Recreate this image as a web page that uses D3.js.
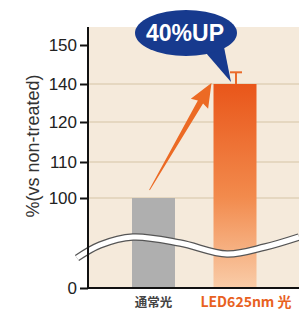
<!DOCTYPE html>
<html>
<head>
<meta charset="utf-8">
<script src="https://cdn.jsdelivr.net/npm/d3@7"></script>
<style>
  html, body { margin: 0; padding: 0; background: #fff; }
  svg { display: block; }
</style>
</head>
<body>
<div id="chart"></div>
<script>
// Data
const categories = ["通常光", "LED625nm 光"];
const values = [100, 140];
const errorTop = [null, 143];
const tickValues = [150, 140, 120, 110, 100, 0];
const gridValues = [140, 120, 110, 100];
const calloutText = "40%UP";
const yLabel = "%(vs non-treated)";

function drawChart() {
    const W = 299, H = 310;
    const plot = {left: 88, right: 299, top: 27, bottom: 288};

    const svg = d3.select("#chart").append("svg")
        .attr("width", W)
        .attr("height", H);

    const defs = svg.append("defs");
    const grad = defs.append("linearGradient")
        .attr("id", "orangeGrad")
        .attr("x1", 0).attr("y1", 0).attr("x2", 0).attr("y2", 1);
    grad.append("stop").attr("offset", "0%").attr("stop-color", "#e9561a");
    grad.append("stop").attr("offset", "55%").attr("stop-color", "#f28a4c");
    grad.append("stop").attr("offset", "100%").attr("stop-color", "#f9cca8");

    // broken y axis: piecewise scale (labels are unevenly spaced in the original)
    const y = d3.scaleLinear()
        .domain([0, 100, 110, 120, 140, 150])
        .range([288, 198, 162, 122, 84, 45]);

    const x = d3.scalePoint()
        .domain(categories)
        .range([153.5, 235]);
    const barW = 43;

    // background
    svg.append("rect")
        .attr("x", plot.left)
        .attr("y", plot.top)
        .attr("width", plot.right - plot.left)
        .attr("height", plot.bottom - plot.top)
        .attr("fill", "#f5eadb");

    // grid lines
    svg.selectAll(".grid")
        .data(gridValues)
        .enter().append("line")
        .attr("x1", plot.left).attr("x2", plot.right)
        .attr("y1", d => y(d)).attr("y2", d => y(d))
        .attr("stroke", "#d5c4a6")
        .attr("stroke-width", 1.2);

    // bars
    svg.selectAll(".bar")
        .data(values)
        .enter().append("rect")
        .attr("x", (d, i) => x(categories[i]) - barW / 2)
        .attr("y", d => y(d))
        .attr("width", barW)
        .attr("height", d => y(0) - y(d))
        .attr("fill", (d, i) => i === 0 ? "#afafaf" : "url(#orangeGrad)");

    // error bar
    const ex = x(categories[1]) + 1;
    svg.append("line")
        .attr("x1", ex).attr("x2", ex)
        .attr("y1", y(values[1])).attr("y2", y(errorTop[1]))
        .attr("stroke", "#ea6a2a").attr("stroke-width", 2);
    svg.append("line")
        .attr("x1", ex - 6).attr("x2", ex + 6)
        .attr("y1", y(errorTop[1])).attr("y2", y(errorTop[1]))
        .attr("stroke", "#ea6a2a").attr("stroke-width", 2);

    // wave (axis break)
    const wavePts = [[77, 258], [100, 245], [133, 237], [180, 243], [227, 254], [265, 247], [299, 237]];
    const wave = d3.line().curve(d3.curveCatmullRom)(wavePts);
    svg.append("path").attr("d", wave)
        .attr("fill", "none").attr("stroke", "#555").attr("stroke-width", 7.5);
    svg.append("path").attr("d", wave)
        .attr("fill", "none").attr("stroke", "#ffffff").attr("stroke-width", 5);

    // axes
    const yAxis = svg.append("g")
        .attr("transform", `translate(${plot.left},0)`)
        .call(d3.axisLeft(y).tickValues(tickValues).tickSize(8).tickPadding(3));
    yAxis.select(".domain").remove();
    yAxis.selectAll(".tick line").attr("stroke", "#111").attr("stroke-width", 2);
    yAxis.selectAll(".tick text")
        .attr("fill", "#222")
        .style("font-family", "'Liberation Sans Narrow', 'Arial Narrow', sans-serif")
        .style("font-size", "17px");

    svg.append("line")
        .attr("x1", plot.left).attr("x2", plot.left)
        .attr("y1", plot.top).attr("y2", plot.bottom + 1)
        .attr("stroke", "#111").attr("stroke-width", 2);
    svg.append("line")
        .attr("x1", plot.left - 1).attr("x2", plot.right)
        .attr("y1", plot.bottom).attr("y2", plot.bottom)
        .attr("stroke", "#111").attr("stroke-width", 2);

    // y label
    svg.append("text")
        .attr("transform", "translate(39,146) rotate(-90)")
        .attr("text-anchor", "middle")
        .attr("fill", "#333")
        .style("font-family", "'Liberation Sans Narrow', 'Arial Narrow', sans-serif")
        .style("font-size", "18px")
        .text(yLabel);

    // category labels
    svg.selectAll(".cat")
        .data(categories)
        .enter().append("text")
        .attr("x", (d, i) => i === 0 ? x(d) : x(d) + 11)
        .attr("y", 307)
        .attr("text-anchor", "middle")
        .attr("fill", (d, i) => i === 0 ? "#444" : "#e8611f")
        .style("font-family", "'Noto Sans CJK JP', 'DejaVu Sans', sans-serif")
        .style("font-weight", "bold")
        .style("font-size", (d, i) => i === 0 ? "12.5px" : "14px")
        .text(d => d);

    // arrow from normal bar to LED bar
    const ax0 = x(categories[0]) - 4, ay0 = y(values[0]) - 8;
    const ax1 = x(categories[1]) - barW / 2 - 2, ay1 = y(values[1]) - 1;
    const ang = Math.atan2(ay1 - ay0, ax1 - ax0);
    const len = Math.hypot(ax1 - ax0, ay1 - ay0);
    const headL = 22, headW = 10;
    const arrowPts = [
        [0, -0.4], [len - headL, -3], [len - headL - 2, -headW], [len, 0],
        [len - headL - 2, headW], [len - headL, 3], [0, 0.4]
    ];
    svg.append("polygon")
        .attr("points", arrowPts.map(p => p.join(",")).join(" "))
        .attr("transform", `translate(${ax0},${ay0}) rotate(${ang * 180 / Math.PI})`)
        .attr("fill", "#ec6a24");

    // callout bubble
    const bx = 186, by = 33;
    svg.append("path")
        .attr("d", `M${bx + 20},${by + 20} L${ex - 5},${y(values[1]) - 2} L${bx + 38},${by + 14} Z`)
        .attr("fill", "#173a8e");
    svg.append("ellipse")
        .attr("cx", bx).attr("cy", by)
        .attr("rx", 51).attr("ry", 23)
        .attr("fill", "#173a8e");
    svg.append("text")
        .attr("x", bx - 1).attr("y", by + 8)
        .attr("text-anchor", "middle")
        .attr("fill", "#fff")
        .style("font-family", "'Liberation Sans', Arial, sans-serif")
        .style("font-weight", "bold")
        .style("font-size", "23px")
        .text(calloutText);
}

drawChart();
</script>
</body>
</html>
